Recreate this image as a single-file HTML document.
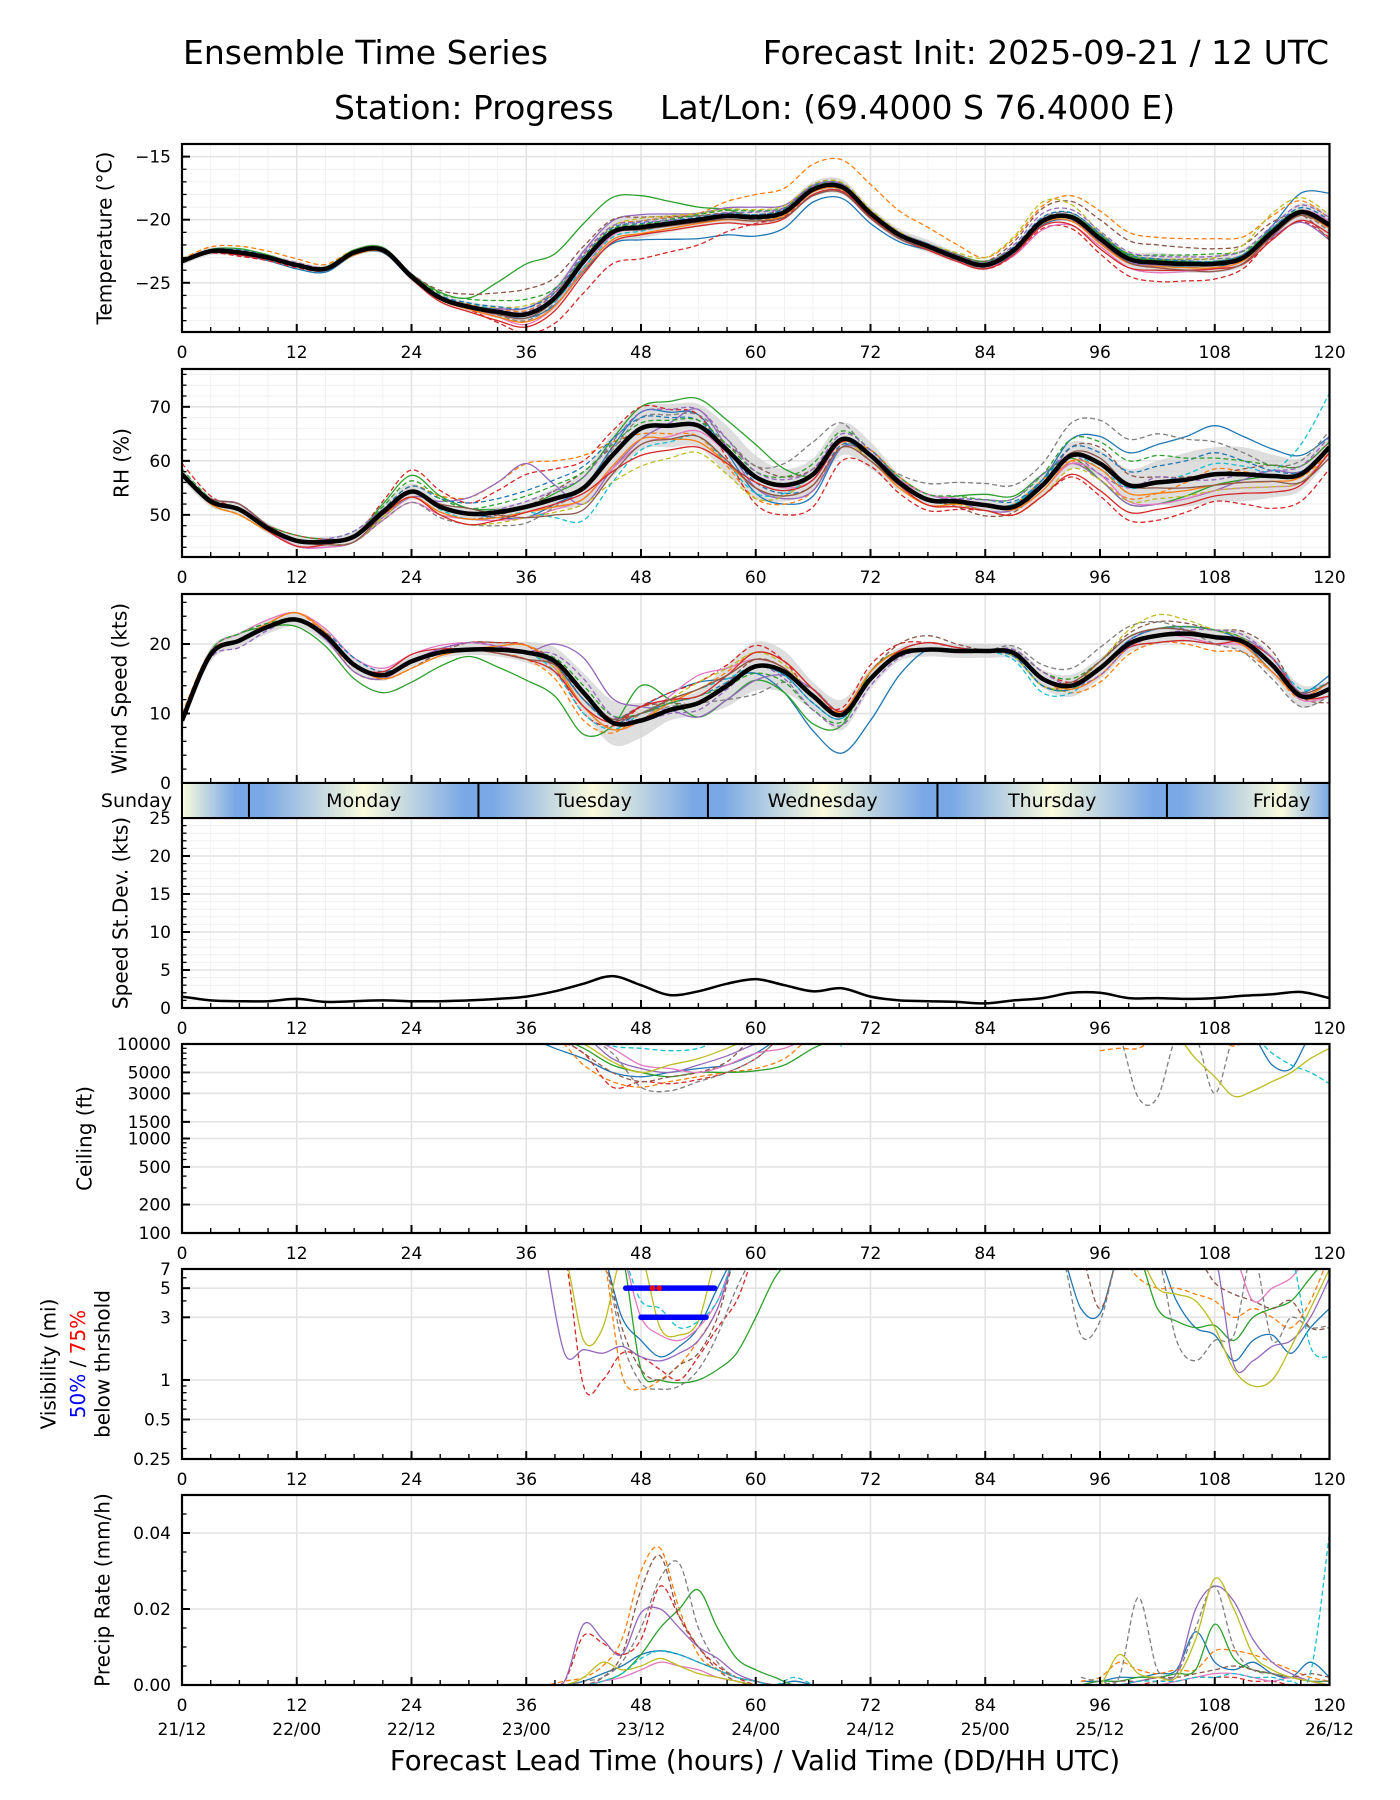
<!DOCTYPE html>
<html><head><meta charset="utf-8"><title>Ensemble Time Series - Progress</title>
<style>
html,body{margin:0;padding:0;background:#fff;}
svg{display:block;font-family:"DejaVu Sans","Liberation Sans",sans-serif;}
</style></head>
<body>
<svg id="chart" xmlns="http://www.w3.org/2000/svg" width="1400" height="1800" viewBox="0 0 1400 1800">
<rect width="1400" height="1800" fill="#fff"/>
<text x="183" y="64" font-size="33">Ensemble Time Series</text>
<text x="1329" y="64" font-size="33" text-anchor="end">Forecast Init: 2025-09-21 / 12 UTC</text>
<text x="334" y="119" font-size="33">Station: Progress</text>
<text x="660" y="119" font-size="33">Lat/Lon: (69.4000 S 76.4000 E)</text>
<text x="755" y="1770" font-size="27.5" text-anchor="middle">Forecast Lead Time (hours) / Valid Time (DD/HH UTC)</text>
<g id="layer"></g>
</svg>
<script>
// ---------- DATA ----------
const tempMean=[-23.3,-22.5,-22.6,-23.0,-23.6,-23.9,-22.6,-22.4,-24.5,-26.2,-26.9,-27.3,-27.5,-26.2,-23.3,-21.0,-20.6,-20.3,-20.0,-19.7,-19.8,-19.4,-17.6,-17.4,-19.5,-21.2,-22.1,-23.0,-23.6,-22.4,-20.1,-19.8,-21.5,-23.1,-23.4,-23.5,-23.5,-23.0,-21.0,-19.4,-20.4];
const tempSpread=[0.3,0.3,0.3,0.3,0.3,0.3,0.3,0.3,0.3,0.4,0.4,0.5,0.6,0.9,1.0,0.9,0.9,0.7,0.6,0.6,0.6,0.6,0.6,0.6,0.5,0.5,0.5,0.4,0.4,0.4,0.4,0.4,0.5,0.6,0.8,0.7,0.7,0.7,0.6,0.7,0.9];
const tempDev=[
[0,-0.2,-0.3,-0.2,-0.2,0,-0.3,-0.8,-1.0,-1.5,-1.5,-1.0,-0.8,-0.3,-0.2,-0.3,-0.3,-0.2,-0.3,0.5,2.5],
[0.2,0.5,0.5,0.2,0,0.2,0.3,0.5,0.5,0.5,1.8,2.0,2.3,1.5,0.6,1.2,2.2,2.0,2.0,1.3,0.5],
[0,0.3,0.1,0.2,0.2,0.7,4.0,3.0,2.5,1.0,0,0,0,0.2,0.3,0,0.3,0.2,0.2,0.3,0],
[0,-0.3,-0.2,0,0,-0.2,-1.5,-2.5,-2.5,-2.0,-0.5,-0.2,0,-0.1,-0.3,-0.6,-1.2,-1.5,-1.2,-0.5,-1.0],
[0,0.1,0,0.1,0,0,0.5,0.8,1.0,0.5,0.8,0.3,0.2,0.2,0,0,-0.3,-0.2,0,-0.4,-1.2],
[0,0.2,0.1,0.1,0.2,1.0,2.0,1.2,0.8,0.3,0.2,0.4,0.3,0.2,0.3,1.0,1.5,1.4,1.2,0.8,-1.2],
[0,0,-0.1,0,-0.1,0,-0.8,-0.5,0,0,0,0.2,0,-0.2,-0.2,-0.7,-0.6,-0.8,-0.4,0,0.3],
[0,0,0.1,0,0,0,-0.5,-0.2,0.5,0.3,-0.2,-0.2,-0.3,-0.2,-0.2,0.2,0.4,0.3,0.4,0,-0.5],
[0,0,0.2,0,0,0,0.7,0.2,0.7,0.5,0.6,0.4,0.3,0.2,0.6,1.5,0.5,0.3,0.5,1.5,0.8],
[0,0.1,0,0,0,0.3,0,-0.5,-0.3,0,0.2,0,0.1,0.2,0.1,0,-0.2,0,-0.1,0.2,0],
[0,0.2,0.1,0,0.1,0.3,0.5,0.4,0.3,0.2,0.2,0.3,0.1,0,0.2,0.3,0.4,0.3,0.2,0.3,0.4],
[0,-0.1,0,-0.2,-0.1,-0.2,-0.6,-0.7,-0.5,-0.3,-0.3,-0.2,-0.2,-0.1,-0.1,-0.2,-0.4,-0.3,-0.3,-0.2,-0.3],
[0,0.1,-0.1,0.1,0.1,0.6,1.2,0.3,0.2,0.4,0.5,0.2,0.1,0.1,0.2,0.1,0.2,0.6,0.8,0.2,0.1],
[0,-0.2,-0.1,0,-0.2,-0.4,-1.0,-1.0,-0.6,-0.5,-0.6,-0.4,-0.3,-0.3,-0.3,-0.4,-0.8,-0.6,-0.4,-0.6,-0.7],
[0,0,0.2,0.1,0,0.1,0.2,0.6,0.4,0.1,0.4,0.3,0.1,0.2,0.2,0.6,0.6,0.5,0.6,0.5,0.6],
[0,0,-0.1,-0.1,0,-0.1,-0.3,0,-0.2,-0.2,-0.3,-0.5,-0.4,-0.2,0,0,-0.2,-0.4,-0.6,-0.3,-0.2]];
const rhMean=[57.5,52.5,51,47.5,45.2,45.0,46,50.5,54.3,51.5,50.2,50.5,51.5,53,55,61,66,66.5,66.5,62,57,55.5,57.5,64,61,56,52.8,52.5,51.8,51.5,55.5,61,59.5,55.5,56,56.5,57.5,57.5,57.2,57.5,62.5];
const rhSpread=[1,1,1,1,1,1,1,1.5,1.5,1,1,1,1.2,2,3,4,4,4,4,4.5,4,3,3,3,2.5,1.5,1,1,1,1,2,2.5,2.5,3,4,5,5,5,4,3,2];
const rhDev=[
[0,0,0,0,0,0,-2,0,3,2,-3,-4,1,0,0,1,5,7,9,5,2],
[0,1,0,0,1,3,8,6,-1,-2,-4,-3,1,1,0,1,-3,-2,1,0,-1],
[0,0,0,0,3,1,0,2,4,5,6,0,0,0,2,2,-3,-4,-2,0,0],
[2,0,1,0,4,2,6,5,4,2,-5,-6,-2,-2,-1,-2,-6,-7,-5,-6,-4],
[0,1,-1,-1,-1,3,8,-3,-2,3,-2,-3,0,1,-1,0,-3,-4,-3,1,0],
[0,-1,0,0,-1,-1,0,3,0,0,2,1,-1,0,-2,0,3,1,0,2,1],
[0,1,-1,-1,-2,-1,-2,-2,-3,-1,0,-1,0,1,0,-1,-2,-4,-3,-2,-1],
[0,-1,0,-1,-2,-2,-3,0,2,2,2,6,0,3,4,4,8,9,6,2,3],
[0,-1,0,-1,-1,-2,-2,-3,-7,-5,-4,0,-1,0,-1,-2,-3,-3,-3,-2,-1],
[0,0,0,1,0,-1,-1,-6,-4,-2,-3,0,0,0,0,1,-1,0,2,1,10],
[0,1,0,0,1,2,3,4,2,1,-1,-2,0,0,1,1,2,3,4,1,0],
[0,-1,0,0,-1,-1,-1,-2,-2,-3,-2,-2,-1,-1,0,-1,-1,-2,-2,-1,0],
[1,0,1,0,2,1,2,3,1,1,1,2,1,1,1,2,4,5,3,2,1],
[0,0,-1,0,-1,-2,-1,-1,-5,-4,-1,-1,0,-1,-1,-2,-5,-5,-4,-3,-1],
[0,0,0,1,0,0,1,2,3,3,1,1,1,0,1,2,-2,1,-1,1,2],
[0,1,0,-1,0,1,-2,-4,-3,-2,-2,-2,-1,0,0,0,1,-1,-2,-1,-2]];
const windMean=[9,18.5,20.5,22.5,23.5,21.2,17,15.5,17.5,18.8,19.2,19.2,18.8,17.5,13,8.7,9,10.5,11.5,14,16.8,16,12.5,9.8,15,18.5,19.2,19,19,18.7,15,14,16.5,20,21.2,21.5,21,20.3,17,12.5,13.5];
const windSpread=[1,1,1,1,1,1,1,0.8,0.8,0.8,0.8,1,1.5,2,2.8,3.2,2.5,1.5,1.8,3,3.5,3,2,2.2,1.5,1,1,1,1,1,1.3,1.6,1.5,1.2,1.2,1.2,1.2,1.4,1.5,1.6,1.2];
const windDev=[
[0,0,0,0,0,0,0,-1,2,3,-1,-5,-6,0,0,0,0,1,1,-1,2],
[1,0,1,-1,0,0,-1,-4,1,2,2,1,0,0,0,0,-2,-1,-2,-1,0],
[0,1,-1,-2,-3,-1,-4,-6,5,-2,-2,-4,1,0,0,-1,0,0,0,0,0],
[0,0,1,0,0,1,1,-3,2,3,3,0,2,1,0,1,0,0,0,-1,1],
[0,0,0,-1,0,1,0,5,2,-2,-2,1,0,0,0,0,0,1,0,1,0],
[0,0,0,0,-1,1,1,-1,2,0,1,0,1,2,0,-1,1,2,1,2,-2],
[0,1,1,1,1,1,0,-2,0,4,1,0,0,1,0,0,-1,0,-1,0,-1],
[0,1,0,0,0,0,0,-1,1,0,-4,1,0,0,0,2,3,2,-1,-2,-1],
[0,0,0,0,0,0,0,-2,0,3,2,0,0,0,0,-1,1,3,1,0,0],
[0,0,0,0,0,0,0,-3,1,2,0,-1,0,1,0,-2,0,-1,-1,1,1],
[0,0,0,1,0,0,0,-1,1,1,0,-1,0,0,0,-1,0,1,0,0,0],
[0,0,1,0,-1,0,1,-2,0,2,1,0,1,0,0,0,-1,0,0,-1,1],
[0,1,0,0,0,0,0,1,1,1,-1,-2,0,0,0,1,1,1,1,0,0],
[0,0,0,0,1,0,-1,-2,2,1,2,1,0,1,0,0,0,-1,-1,1,-1],
[0,-1,0,0,0,1,0,2,0,-1,0,-2,-1,0,0,1,-1,0,1,1,0],
[0,0,0,0,0,0,-1,0,1,2,1,0,0,0,0,0,1,1,0,0,1]];
const stdVals=[1.5,1.0,0.9,0.9,1.2,0.8,0.9,1.0,0.9,0.9,1.0,1.2,1.5,2.2,3.2,4.2,3.0,1.7,2.2,3.2,3.8,3.0,2.2,2.6,1.5,1.0,0.9,0.8,0.6,1.0,1.3,2.0,2.0,1.3,1.3,1.2,1.3,1.6,1.8,2.1,1.3];
const ceilHoursA=[36,39,42,45,48,51,54,57,60,63,66,69];
const ceilA=[
[12000,9000,7000,5000,4500,5000,5500,6000,8000,12000,12000,12000],
[12000,12000,6000,4000,3500,4000,4500,5000,5500,7000,12000,12000],
[12000,12000,9000,6000,5000,4500,5000,5000,5200,6000,9000,12000],
[12000,11000,8000,3500,4000,3800,4200,5000,7000,12000,12000,12000],
[12000,12000,12000,7000,5500,5000,6000,7500,10000,12000,12000,12000],
[12000,12000,8000,5000,4000,4500,5000,6500,12000,12000,12000,12000],
[12000,12000,12000,9000,6000,5500,5000,6000,8000,9000,12000,12000],
[12000,12000,12000,8000,3500,3200,4000,5000,7000,12000,12000,12000],
[12000,12000,10000,6500,5000,6000,7000,9000,12000,12000,12000,12000],
[12000,12000,12000,9500,9000,8500,9000,12000,12000,12000,12000,9500]];
const ceilHoursB=[96,98,100,102,104,106,108,110,112,114,116,118,120];
const ceilB=[
[12000,12000,12000,12000,12000,12000,12000,12000,12000,6000,5500,12000,12000],
[8500,9000,9000,12000,12000,12000,12000,9500,12000,12000,12000,12000,12000],
[12000,12000,12000,12000,12000,12000,12000,12000,12000,12000,12000,12000,12000],
[12000,12000,12000,12000,12000,12000,12000,12000,12000,12000,12000,12000,12000],
[12000,12000,12000,12000,12000,12000,12000,12000,12000,12000,12000,12000,12000],
[12000,12000,12000,12000,12000,12000,12000,12000,12000,12000,12000,12000,9500],
[12000,12000,12000,12000,12000,12000,12000,12000,12000,12000,12000,12000,12000],
[12000,12000,2700,2700,12000,12000,3000,12000,12000,12000,12000,12000,12000],
[12000,12000,12000,12000,12000,7000,4500,2800,3200,4000,5000,7000,9000],
[12000,12000,12000,12000,12000,12000,12000,12000,12000,8000,6000,5000,3800]];
const visHoursA=[38,40,42,44,46,48,50,52,54,56,58,60,62,64];
const visA=[
[9,9,9,9,3,2,1.5,1.8,2.5,5,9,9,9,9],
[9,9,9,9,1.1,0.85,1.0,1.3,2,3.5,9,9,9,9],
[9,9,9,9,9,1.2,1.0,0.95,1.0,1.2,1.6,3,6,9],
[9,9,0.9,1.0,1.6,1.5,1.2,1.0,1.5,2.5,4,9,9,9],
[9,1.6,1.7,1.6,1.8,1.5,1.4,1.6,2,3.5,9,9,9,9],
[9,9,9,9,2.5,1.2,1.0,1.3,1.6,3,9,9,9,9],
[9,9,9,9,9,3,2.2,2.0,2.5,4,9,9,9,9],
[9,9,9,9,2.0,0.95,0.85,0.9,1.2,2.2,5,9,9,9],
[9,9,2,2.5,9,9,2.5,2.2,2.8,9,9,9,9,9],
[9,9,9,9,9,4,3.5,2.5,2.8,4,9,9,9,9]];
const visHoursB=[88,90,92,94,96,98,100,102,104,106,108,110,112,114,116,118,120];
const visB=[
[9,9,9,3.5,3.2,9,9,9,4,2.5,2.2,1.4,2.0,2.2,1.6,2.5,3.5],
[9,9,9,9,9,9,6,5,5,4.5,4,3,3.5,3,2.5,4,9],
[9,9,9,9,9,9,9,3.5,2.8,2.5,2.6,2.0,3.0,3.5,4,6,9],
[9,9,9,9,9,9,9,9,9,9,9,9,9,9,9,9,9],
[9,9,9,9,9,9,9,9,9,9,9,1.3,1.4,1.8,2.0,3,6],
[9,9,9,9,3.5,9,9,9,9,9,5.5,4.5,4,3.5,4,2.5,2.5],
[9,9,9,9,9,9,9,9,9,9,9,9,4,5,6,9,9],
[9,9,9,2.2,2.8,9,9,9,2,1.4,2.0,2.2,9,2.0,3,2.5,2.6],
[9,9,9,9,9,9,9,5,4.5,4,2.5,1.2,0.9,1.0,1.8,3.5,7],
[9,9,9,9,9,9,9,9,9,9,9,9,9,9,9,1.8,1.5]];
const thrLevels=[5,3];
const thrStart=[46.4,48];
const thrEnd=[55.7,54.8];
const precHoursA=[36,38,40,42,44,46,48,50,52,54,56,58,60,62,64,66];
const precA=[
[0,0,0,.001,.003,.005,.008,.009,.008,.006,.004,.002,.001,0,.001,0],
[0,0,.001,.002,.005,.012,.030,.036,.02,.008,.004,.002,.001,0,0,0],
[0,0,0,0,.001,.003,.008,.015,.020,.025,.015,.007,.004,.002,0,0],
[0,0,.001,.013,.011,.008,.012,.026,.018,.010,.005,.002,0,0,0,0],
[0,0,.001,.016,.012,.008,.019,.020,.015,.010,.007,.003,.001,0,0,0],
[0,0,0,0,.002,.008,.025,.034,.018,.010,.004,.001,0,0,0,0],
[0,0,0,0,.001,.002,.004,.006,.005,.004,.002,.001,0,0,0,0],
[0,0,0,.001,.002,.006,.015,.028,.032,.015,.006,.002,.001,0,0,0],
[0,0,0,.002,.006,.004,.005,.007,.005,.003,.002,.001,0,0,0,0],
[0,0,0,0,.001,.003,.007,.009,.008,.006,.004,.002,.001,0,.002,0]];
const precHoursB=[94,96,98,100,102,104,106,108,110,112,114,116,118,120];
const precB=[
[.001,.001,.002,.002,.003,.004,.014,.006,.004,.006,.003,.002,.006,.002],
[.001,.002,.006,.004,.003,.004,.004,.009,.009,.008,.006,.004,.002,.001],
[0,.001,.001,.002,.002,.003,.004,.016,.007,.004,.003,.002,.001,.001],
[0,0,0,0,.001,.001,.002,.002,.002,.001,.001,0,0,0],
[0,0,0,.001,.002,.003,.020,.026,.022,.012,.006,.003,.001,0],
[0,0,.001,.001,.002,.002,.003,.004,.005,.004,.003,.002,.003,.002],
[0,0,0,0,0,.001,.002,.003,.003,.002,.001,.002,.001,0],
[.002,.001,.002,.023,.004,.003,.015,.026,.010,.004,.003,.002,.001,.001],
[0,0,.008,.003,.002,.002,.012,.028,.020,.008,.004,.002,.001,0],
[0,0,0,.001,.001,.001,.002,.002,.003,.002,.002,.001,.003,.040]];
const dayNames=["Sunday","Monday","Tuesday","Wednesday","Thursday","Friday"];
const dayNoon=[-5,19,43,67,91,115];
const midnights=[7,31,55,79,103];
const dateLabels=["21/12","22/00","22/12","23/00","23/12","24/00","24/12","25/00","25/12","26/00","26/12"];
// ---------- LAYOUT ----------
const NS="http://www.w3.org/2000/svg";
const layer=document.getElementById('layer');
const X0=182,X1=1329.5;
const COLORS=["#1f77b4","#ff7f0e","#2ca02c","#d62728","#9467bd","#8c564b","#e377c2","#7f7f7f","#bcbd22","#17becf"];
function xs(h){return X0+(h/120)*(X1-X0);}
function ys(p,v){
  if(p.log){const t=(Math.log(v)-Math.log(p.min))/(Math.log(p.max)-Math.log(p.min));return p.bot-t*(p.bot-p.top);}
  return p.bot-(v-p.min)/(p.max-p.min)*(p.bot-p.top);
}
function mk(tag,attrs,parent){const e=document.createElementNS(NS,tag);for(const k in attrs)e.setAttribute(k,attrs[k]);(parent||layer).appendChild(e);return e;}
function pathD(pts,move){
  let d=(move===false?'L':'M')+pts[0][0].toFixed(1)+','+pts[0][1].toFixed(1);
  for(let i=0;i<pts.length-1;i++){
    const p0=pts[i-1]||pts[i],p1=pts[i],p2=pts[i+1],p3=pts[i+2]||p2;
    const c1x=p1[0]+(p2[0]-p0[0])/6,c1y=p1[1]+(p2[1]-p0[1])/6;
    const c2x=p2[0]-(p3[0]-p1[0])/6,c2y=p2[1]-(p3[1]-p1[1])/6;
    d+=`C${c1x.toFixed(1)},${c1y.toFixed(1)} ${c2x.toFixed(1)},${c2y.toFixed(1)} ${p2[0].toFixed(1)},${p2[1].toFixed(1)}`;
  }
  return d;
}
const H3=[];for(let h=0;h<=120;h+=3)H3.push(h);
function devAt(dev,i){const j=i/2;const a=Math.floor(j),b=Math.ceil(j);return (dev[a]+dev[b])/2;}

const P={
 temp:{name:'temperature',top:144,bot:332,min:-28.9,max:-14.0,ticks:[-25,-20,-15],minor:1,mgrid:true,label:'Temperature (°C)',lx:106},
 rh:{name:'rh',top:369,bot:557,min:42.2,max:77,ticks:[50,60,70],minor:2,mgrid:true,label:'RH (%)',lx:123},
 wind:{name:'wind-speed',top:594,bot:783,min:0,max:27.2,ticks:[0,10,20],minor:2,mgrid:false,label:'Wind Speed (kts)',lx:121,noXLabels:true},
 std:{name:'speed-stdev',top:818,bot:1008,min:0,max:25,ticks:[0,5,10,15,20,25],minor:1,mgrid:true,label:'Speed St.Dev. (kts)',lx:122},
 ceil:{name:'ceiling',top:1044,bot:1233,min:100,max:10000,log:true,ticks:[100,200,500,1000,1500,3000,5000,10000],label:'Ceiling (ft)',lx:86},
 vis:{name:'visibility',top:1269,bot:1459,min:0.25,max:7,log:true,ticks:[0.25,0.5,1,3,5,7]},
 prec:{name:'precip-rate',top:1495,bot:1685,min:0,max:0.05,ticks:[0,0.02,0.04],tickText:['0.00','0.02','0.04'],minor:0.005,label:'Precip Rate (mm/h)',lx:104,dates:true}
};
let clipId=0;
function axes(p){
  const g=mk('g',{});
  
  
  p.g=g;
  if(p.mgrid){
    for(let h=3;h<120;h+=3){if(h%12)mk('line',{x1:xs(h),x2:xs(h),y1:p.top,y2:p.bot,stroke:'#f2f2f2','stroke-width':1},g);}
    for(let v=Math.ceil(p.min/p.minor)*p.minor;v<=p.max;v+=p.minor){mk('line',{x1:X0,x2:X1,y1:ys(p,v),y2:ys(p,v),stroke:'#f0f0f0','stroke-width':1},g);}
  }
  for(let h=12;h<120;h+=12)mk('line',{x1:xs(h),x2:xs(h),y1:p.top,y2:p.bot,stroke:'#e3e3e3','stroke-width':1.6},g);
  p.ticks.forEach(v=>mk('line',{x1:X0,x2:X1,y1:ys(p,v),y2:ys(p,v),stroke:'#e3e3e3','stroke-width':1.6},g));
  const id='clip'+(clipId++);
  const cp=mk('clipPath',{id:id},g);mk('rect',{x:X0,y:p.top,width:X1-X0,height:p.bot-p.top},cp);
  p.plot=mk('g',{'clip-path':`url(#${id})`},g);
}
function frame(p){
  const g=p.g;
  for(let h=0;h<=120;h+=3){const maj=h%12===0;mk('line',{x1:xs(h),x2:xs(h),y1:p.bot,y2:p.bot-(maj?8:5),stroke:'#000','stroke-width':maj?2:1.4},g);}
  p.ticks.forEach((v,i)=>{
    mk('line',{x1:X0,x2:X0+8,y1:ys(p,v),y2:ys(p,v),stroke:'#000','stroke-width':2},g);
    const t=mk('text',{x:171,y:ys(p,v)+6,'font-size':17,'text-anchor':'end'},g);
    
    
    t.textContent=p.tickText?p.tickText[i]:String(v).replace('-','−');
  });
  if(p.minor){for(let v=Math.ceil(p.min/p.minor)*p.minor;v<=p.max+1e-9;v+=p.minor){mk('line',{x1:X0,x2:X0+4.5,y1:ys(p,v),y2:ys(p,v),stroke:'#000','stroke-width':1.3},g);}}
  if(p.log){const mins=p.name==='ceiling'?[300,400,600,700,800,900,2000,4000,6000,7000,8000,9000]:[0.3,0.4,0.6,0.7,0.8,0.9,2,4,6];mins.forEach(v=>mk('line',{x1:X0,x2:X0+4.5,y1:ys(p,v),y2:ys(p,v),stroke:'#000','stroke-width':1.3},g));}
  mk('rect',{x:X0,y:p.top,width:X1-X0,height:p.bot-p.top,fill:'none',stroke:'#000','stroke-width':2.2},g);
  if(!p.noXLabels){
    for(let h=0,k=0;h<=120;h+=12,k++){
      const t=mk('text',{x:xs(h),y:p.bot+26,'font-size':17,'text-anchor':'middle'},g);
      
      
      t.textContent=h;
      if(p.dates){const d=mk('text',{x:xs(h),y:p.bot+50,'font-size':17,'text-anchor':'middle'},g);
        
        
        d.textContent=dateLabels[k];}
    }
  }
  if(p.label){
    const cy=(p.top+p.bot)/2;
    const t=mk('text',{x:p.lx,y:cy,'font-size':20,'text-anchor':'middle',transform:`rotate(-90 ${p.lx} ${cy})`,'dominant-baseline':'middle'},g);
    
    
    t.textContent=p.label;
  }
}
function line(p,hours,vals,color,dash,w,name){
  const pts=hours.map((h,i)=>[xs(h),ys(p,vals[i])]);
  const e=mk('path',{d:pathD(pts),fill:'none',stroke:color,'stroke-width':w,'stroke-dasharray':dash?'5,3':'none','stroke-linejoin':'round'},p.plot);
  
  
  return e;
}
function ensemble(p,mean,spread,devs){
  const up=H3.map((h,i)=>[xs(h),ys(p,mean[i]+spread[i])]);
  const lo=H3.map((h,i)=>[xs(h),ys(p,mean[i]-spread[i])]).reverse();
  const band=mk('path',{d:pathD(up)+pathD(lo,false)+'Z',fill:'#d0d0d0','fill-opacity':0.7,stroke:'none'},p.plot);
  
  
  devs.forEach((dev,m)=>{
    const vals=H3.map((h,i)=>mean[i]+devAt(dev,i));
    const dash=m<10?(m%2===1||m>=7):(m%2===0);
    line(p,H3,vals,COLORS[m%10],dash,1.3,p.name+'-member-'+(m+1));
  });
  line(p,H3,mean,'#000',false,4.5,p.name+'-ensemble-mean');
}
// ---------- DRAW ----------
Object.values(P).forEach(axes);
ensemble(P.temp,tempMean,tempSpread,tempDev);
ensemble(P.rh,rhMean,rhSpread,rhDev);
ensemble(P.wind,windMean,windSpread,windDev);
line(P.std,H3,stdVals,'#000',false,2.5,'stdev-line');
ceilA.forEach((v,m)=>line(P.ceil,ceilHoursA,v,COLORS[m],m%2===1,1.3,'ceiling-member-a'+(m+1)));
ceilB.forEach((v,m)=>line(P.ceil,ceilHoursB,v,COLORS[m],m%2===1,1.3,'ceiling-member-b'+(m+1)));
visA.forEach((v,m)=>line(P.vis,visHoursA,v,COLORS[m],m%2===1,1.3,'visibility-member-a'+(m+1)));
visB.forEach((v,m)=>line(P.vis,visHoursB,v,COLORS[m],m%2===1,1.3,'visibility-member-b'+(m+1)));
thrLevels.forEach((lv,i)=>{
  const e=mk('line',{x1:xs(thrStart[i]),x2:xs(thrEnd[i]),y1:ys(P.vis,lv),y2:ys(P.vis,lv),stroke:'#0000ff','stroke-width':5.5,'stroke-linecap':'round'},P.vis.plot);
  
  
});
[49.2,49.9].forEach(h=>{const c=mk('circle',{cx:xs(h),cy:ys(P.vis,5),r:2.8,fill:'#ff0000'},P.vis.plot);
  
  });
precA.forEach((v,m)=>line(P.prec,precHoursA,v,COLORS[m],m%2===1,1.3,'precip-member-a'+(m+1)));
precB.forEach((v,m)=>line(P.prec,precHoursB,v,COLORS[m],m%2===1,1.3,'precip-member-b'+(m+1)));
Object.values(P).forEach(frame);
(function(){
  const cy=1364;
  const g=mk('g',{});
  
  
  const t1=mk('text',{x:50,y:cy,'font-size':20,'text-anchor':'middle','dominant-baseline':'middle',transform:`rotate(-90 50 ${cy})`},g);t1.textContent='Visibility (mi)';
  const t2=mk('text',{x:79,y:cy,'font-size':20,'text-anchor':'middle','dominant-baseline':'middle',transform:`rotate(-90 79 ${cy})`},g);
  t2.innerHTML='<tspan fill="#0000ff">50%</tspan> / <tspan fill="#ff0000">75%</tspan>';
  const t3=mk('text',{x:104,y:cy,'font-size':20,'text-anchor':'middle','dominant-baseline':'middle',transform:`rotate(-90 104 ${cy})`},g);t3.textContent='below thrshold';
})();
// day band
(function(){
  const top=783,bot=818;
  const defs=mk('defs',{});
  const gr=mk('linearGradient',{id:'dayGrad',x1:X0,x2:X1,y1:0,y2:0,gradientUnits:'userSpaceOnUse'},defs);
  [-17].concat(midnights).concat([127]).forEach(m=>{
    mk('stop',{offset:((m-1.5)/120),'stop-color':'#7aa8e6'},gr);
    mk('stop',{offset:((m+1.5)/120),'stop-color':'#7aa8e6'},gr);
    mk('stop',{offset:((m+12)/120),'stop-color':'#fbfbdc'},gr);
  });
  const r=mk('rect',{x:X0,y:top,width:X1-X0,height:bot-top,fill:'url(#dayGrad)',stroke:'#000','stroke-width':2});
  
  
  midnights.forEach(h=>{const l=mk('line',{x1:xs(h),x2:xs(h),y1:top,y2:bot,stroke:'#000','stroke-width':2});
    
    });
  dayNames.forEach((n,i)=>{
    const x=i===0?172:xs(dayNoon[i]);
    const t=mk('text',{x:x,y:807,'font-size':19,'text-anchor':i===0?'end':'middle'});
    
    
    t.textContent=n;
  });
})();
</script>
</body></html>
